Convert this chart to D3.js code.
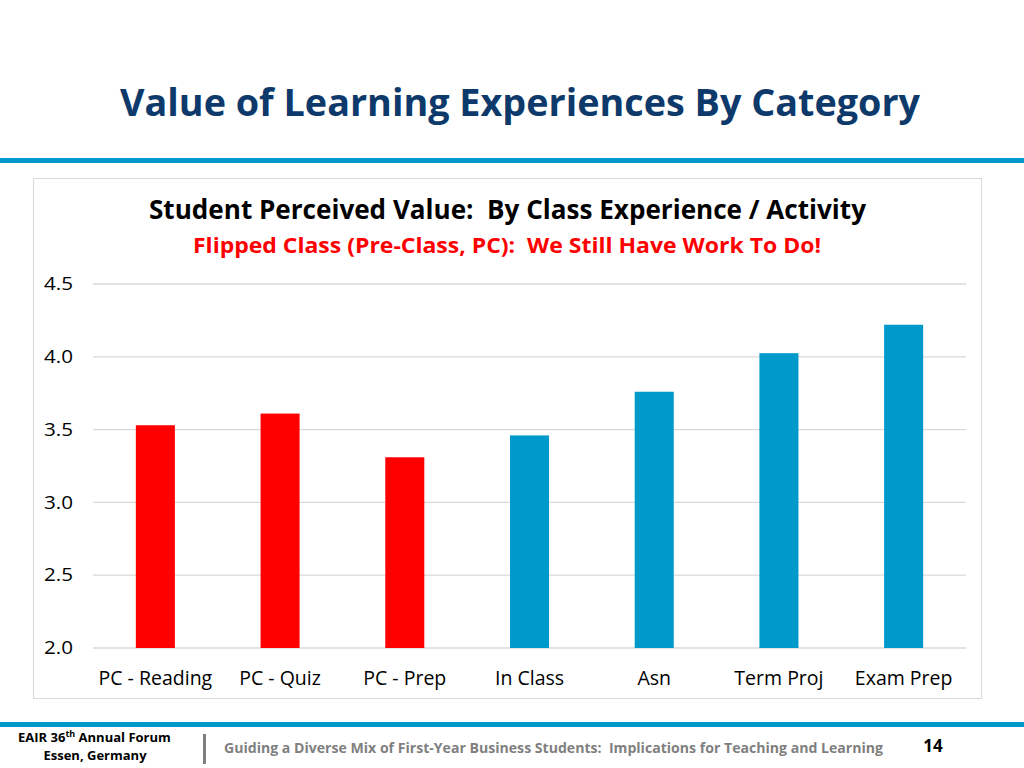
<!DOCTYPE html>
<html><head><meta charset="utf-8">
<script src="https://cdn.jsdelivr.net/npm/d3@7/dist/d3.min.js"></script>
<style>body{margin:0;background:#fff}svg{display:block}text{font-family:"Open Sans",Lato,sans-serif;white-space:pre}</style>
</head><body>
<script>
const categories = ["PC - Reading","PC - Quiz","PC - Prep","In Class","Asn","Term Proj","Exam Prep"];
const values = [3.53, 3.61, 3.31, 3.46, 3.76, 4.025, 4.22];
const groups = ["pc","pc","pc","other","other","other","other"];
const yTicks = [2.0, 2.5, 3.0, 3.5, 4.0, 4.5];
const colors = {pc:"#FF0000", other:"#0099CC"};

const W=1024,H=768;
const svg=d3.select("body").append("svg").attr("width",W).attr("height",H);

// slide title
svg.append("text").attr("x",520).attr("y",116).attr("text-anchor","middle")
  .attr("font-size",38).attr("font-weight",700).attr("fill","#0D3A6B")
  .attr("textLength",800).attr("lengthAdjust","spacingAndGlyphs")
  .text("Value of Learning Experiences By Category");
svg.append("rect").attr("x",0).attr("y",158).attr("width",W).attr("height",5).attr("fill","#0099CC");

// chart box
svg.append("rect").attr("x",33.5).attr("y",178.5).attr("width",948).attr("height",520)
  .attr("fill","#fff").attr("stroke","#D9D9D9");

svg.append("text").attr("x",507.5).attr("y",219).attr("text-anchor","middle")
  .attr("font-size",26).attr("font-weight",700).attr("fill","#000")
  .attr("textLength",717).attr("lengthAdjust","spacingAndGlyphs")
  .text("Student Perceived Value:  By Class Experience / Activity");
svg.append("text").attr("x",507).attr("y",253).attr("text-anchor","middle")
  .attr("font-size",22).attr("font-weight",700).attr("fill","#FF0000")
  .attr("textLength",628).attr("lengthAdjust","spacingAndGlyphs")
  .text("Flipped Class (Pre-Class, PC):  We Still Have Work To Do!");

const x=d3.scaleBand().domain(categories).range([93,966]).paddingInner(0.687).paddingOuter(0.3435);
const y=d3.scaleLinear().domain([2.0,4.5]).range([648,284]);

const grid=svg.append("g");
grid.selectAll("line").data(yTicks).join("line")
  .attr("x1",93).attr("x2",966).attr("y1",d=>y(d)).attr("y2",d=>y(d))
  .attr("stroke","#D9D9D9").attr("stroke-width",1.3);

const yAxis=svg.append("g").attr("transform","translate(73,0)")
  .call(d3.axisLeft(y).tickValues(yTicks).tickFormat(d3.format(".1f")).tickSize(0).tickPadding(0));
yAxis.select(".domain").remove();
yAxis.selectAll("text").attr("font-size",18).attr("fill","#000").attr("font-family","'Open Sans',sans-serif")
  .attr("textLength",29).attr("lengthAdjust","spacingAndGlyphs");

svg.append("g").selectAll("rect").data(categories).join("rect")
  .attr("x",d=>x(d)).attr("width",x.bandwidth())
  .attr("y",(d,i)=>y(values[i])).attr("height",(d,i)=>y(2.0)-y(values[i]))
  .attr("fill",(d,i)=>colors[groups[i]]);

const xAxis=svg.append("g").attr("transform","translate(0,648)")
  .call(d3.axisBottom(x).tickSize(0).tickPadding(0));
xAxis.select(".domain").remove();
xAxis.selectAll("text").attr("font-size",19.5).attr("fill","#000").attr("dy",0).attr("y",37)
  .attr("font-family","'Open Sans',sans-serif");

// footer
svg.append("rect").attr("x",0).attr("y",722).attr("width",W).attr("height",5).attr("fill","#0099CC");
const f1=svg.append("text").attr("x",18).attr("y",742).attr("font-size",13).attr("font-weight",700).attr("fill","#000");
f1.append("tspan").text("EAIR 36");
f1.append("tspan").attr("font-size",9).attr("dy",-5).text("th");
f1.append("tspan").attr("dy",5).text(" Annual Forum");
svg.append("text").attr("x",95).attr("y",760).attr("text-anchor","middle").attr("font-size",13).attr("font-weight",700).attr("fill","#000").text("Essen, Germany");
svg.append("rect").attr("x",203).attr("y",734).attr("width",3).attr("height",30).attr("fill","#7F7F7F");
svg.append("text").attr("x",224).attr("y",753).attr("font-size",13.5).attr("font-weight",700).attr("fill","#7F7F7F")
  .attr("textLength",659).attr("lengthAdjust","spacingAndGlyphs")
  .text("Guiding a Diverse Mix of First-Year Business Students:  Implications for Teaching and Learning");
svg.append("text").attr("x",933).attr("y",752).attr("text-anchor","middle").attr("font-size",17).attr("font-weight",700).attr("fill","#000").text("14");
</script>
</body></html>
